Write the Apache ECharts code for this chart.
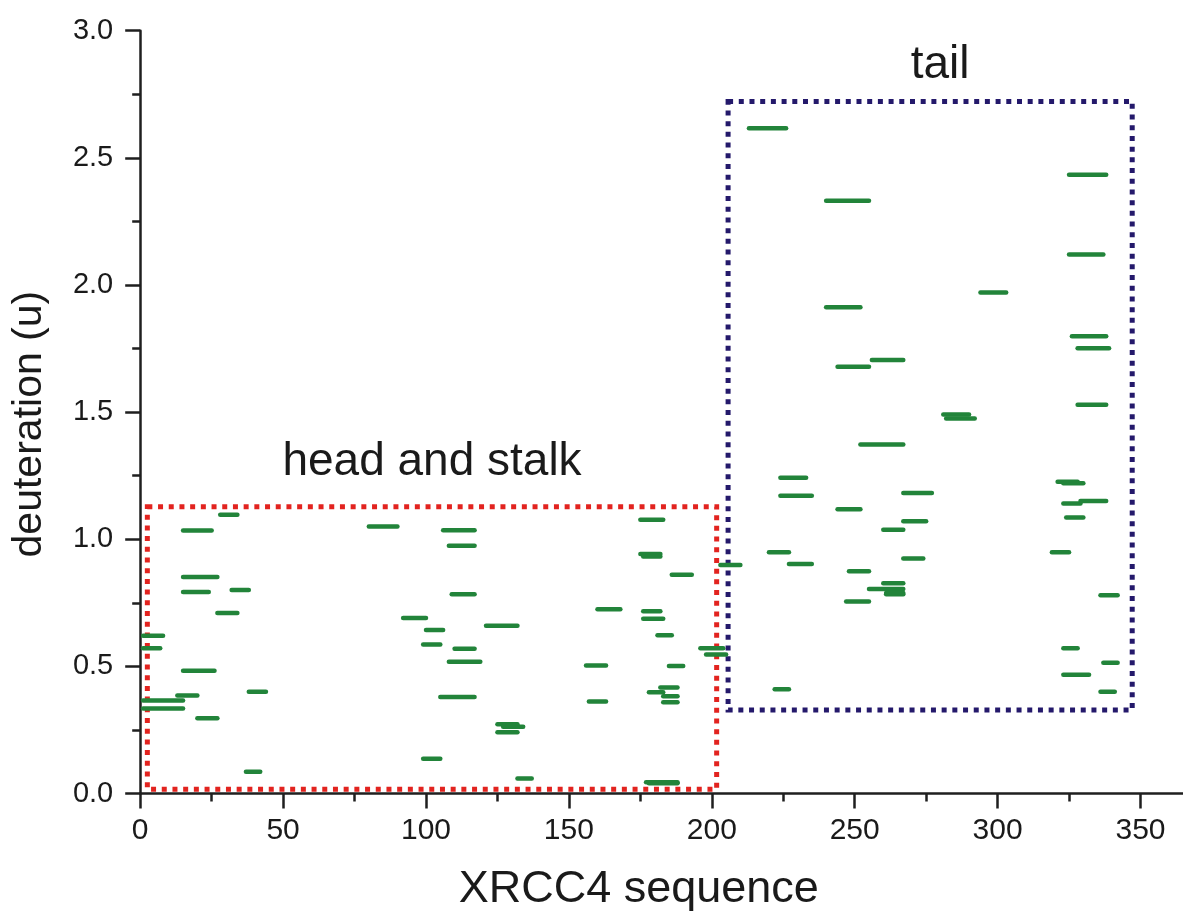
<!DOCTYPE html>
<html>
<head>
<meta charset="utf-8">
<style>
  html, body { margin: 0; padding: 0; background: #fff; }
  #chart { width: 1183px; height: 913px; }
</style>
<script src="https://cdn.jsdelivr.net/npm/echarts@6/dist/echarts.min.js"></script>
</head>
<body>
<div id="chart"></div>
<script>
// peptides: [start residue, end residue, deuteration (u)]
const headPeptides = [
  [28, 34, 1.096], [15, 25, 1.034], [15, 27, 0.851], [15, 24, 0.792],
  [32, 38, 0.800], [27, 34, 0.710], [1, 8, 0.620], [1, 7, 0.571],
  [15, 26, 0.483], [13, 20, 0.385], [1, 15, 0.366], [1, 15, 0.334],
  [20, 27, 0.296], [38, 44, 0.400], [37, 42, 0.086], [80, 90, 1.050],
  [92, 100, 0.690], [100, 106, 0.643], [99, 105, 0.586], [99, 105, 0.137],
  [106, 117, 1.035], [108, 117, 0.974], [109, 117, 0.784], [110, 117, 0.569],
  [108, 119, 0.518], [121, 132, 0.660], [105, 117, 0.380], [125, 132, 0.272],
  [127, 134, 0.263], [125, 132, 0.241], [132, 137, 0.059], [160, 168, 0.725],
  [156, 163, 0.503], [157, 163, 0.362], [175, 183, 1.077], [175, 182, 0.942],
  [176, 182, 0.932], [186, 193, 0.860], [176, 182, 0.717], [176, 183, 0.687],
  [181, 186, 0.622], [196, 204, 0.571], [198, 205, 0.547], [185, 190, 0.501],
  [182, 188, 0.417], [178, 183, 0.398], [183, 188, 0.382], [183, 188, 0.359],
  [177, 188, 0.044], [178, 188, 0.040]
];
const tailPeptides = [
  [203, 210, 0.899], [220, 227, 0.949], [227, 235, 0.903], [224, 233, 1.242],
  [224, 235, 1.171], [222, 227, 0.410], [252, 267, 1.373], [244, 252, 1.118],
  [248, 255, 0.874], [247, 255, 0.755], [260, 267, 0.827], [255, 267, 0.804],
  [261, 267, 0.789], [261, 267, 0.784], [267, 277, 1.182], [267, 275, 1.071],
  [260, 267, 1.037], [267, 274, 0.924], [321, 328, 1.226], [323, 330, 1.220],
  [323, 329, 1.141], [329, 338, 1.150], [324, 330, 1.085], [319, 325, 0.949],
  [336, 342, 0.780], [323, 328, 0.571], [337, 342, 0.514], [323, 332, 0.467],
  [336, 341, 0.400], [213, 226, 2.616], [240, 255, 2.331], [240, 252, 1.912],
  [244, 255, 1.678], [256, 267, 1.705], [281, 290, 1.491], [282, 292, 1.475],
  [294, 303, 1.970], [325, 338, 2.433], [325, 337, 2.120], [326, 338, 1.798],
  [328, 339, 1.751], [328, 338, 1.529]
];
// domains: [x0, x1, y0, y1]
const regions = [
  [2.5, 201.7, 0.017, 1.128],
  [205.7, 347.1, 0.328, 2.722]
];
const regionNames = ['head and stalk', 'tail'];
const xTicks = [0, 50, 100, 150, 200, 250, 300, 350];

// look of the domain boxes and their captions
const regionColors = ['#e2231f', '#24196b'];
const captionShift = [[0, -44], [10, -36]];

const chart = echarts.init(document.getElementById('chart'));

function peptideItem(params, api) {
  const a = api.coord([api.value(0), api.value(2)]);
  const b = api.coord([api.value(1), api.value(2)]);
  return {
    type: 'line',
    shape: { x1: a[0], y1: a[1], x2: b[0], y2: b[1] },
    style: { stroke: '#22843a', lineWidth: 4.5, lineCap: 'round' }
  };
}

function regionItem(params, api) {
  const i = params.dataIndex;
  const p0 = api.coord([api.value(0), api.value(3)]);
  const p1 = api.coord([api.value(1), api.value(2)]);
  return {
    type: 'group',
    children: [
      {
        type: 'rect',
        shape: { x: p0[0], y: p0[1], width: p1[0] - p0[0], height: p1[1] - p0[1] },
        style: { fill: null, stroke: regionColors[i], lineWidth: 5, lineDash: [5, 5.7] }
      },
      {
        type: 'text',
        x: (p0[0] + p1[0]) / 2 + captionShift[i][0],
        y: p0[1] + captionShift[i][1],
        style: {
          text: regionNames[i],
          fontSize: 46,
          fontFamily: 'Liberation Sans',
          fill: '#1a1a1a',
          align: 'center',
          verticalAlign: 'middle'
        }
      }
    ]
  };
}

chart.setOption({
  animation: false,
  grid: {
    left: 140.2, top: 30.7, width: 1143.2, height: 762.8,
    containLabel: false, outerBoundsMode: 'none'
  },
  xAxis: {
    type: 'value',
    min: 0,
    max: 400,
    interval: 50,
    name: 'XRCC4 sequence',
    nameLocation: 'middle',
    nameGap: 74,
    nameTextStyle: { fontSize: 45, fontFamily: 'Liberation Sans', color: '#1a1a1a', padding: [0, 146, 0, 0] },
    axisLine: { lineStyle: { color: '#1f1f1f', width: 2.5 } },
    axisTick: { length: 15, lineStyle: { color: '#1f1f1f', width: 2.5 } },
    minorTick: { show: true, splitNumber: 2, length: 8, lineStyle: { color: '#1f1f1f', width: 2.5 } },
    axisLabel: {
      fontSize: 30, fontFamily: 'Liberation Sans', color: '#1a1a1a', margin: 22,
      formatter: v => (xTicks.indexOf(v) >= 0 ? String(v) : '')
    },
    splitLine: { show: false }
  },
  yAxis: {
    type: 'value',
    min: 0,
    max: 3,
    interval: 0.5,
    name: 'deuteration (u)',
    nameLocation: 'middle',
    nameGap: 90,
    nameTextStyle: { fontSize: 41, fontFamily: 'Liberation Sans', color: '#1a1a1a', padding: [0, 24, 0, 0] },
    axisLine: { show: true, lineStyle: { color: '#1f1f1f', width: 2.5 } },
    axisTick: { show: true, length: 15, lineStyle: { color: '#1f1f1f', width: 2.5 } },
    minorTick: { show: true, splitNumber: 2, length: 8, lineStyle: { color: '#1f1f1f', width: 2.5 } },
    axisLabel: {
      fontSize: 29, fontFamily: 'Liberation Sans', color: '#1a1a1a', margin: 27,
      formatter: v => v.toFixed(1)
    },
    splitLine: { show: false }
  },
  series: [
    {
      type: 'custom',
      name: 'regions',
      renderItem: regionItem,
      data: regions,
      encode: { x: [0, 1], y: [2, 3] },
      z: 1
    },
    {
      type: 'custom',
      name: 'head',
      renderItem: peptideItem,
      data: headPeptides,
      encode: { x: [0, 1], y: 2 },
      z: 2
    },
    {
      type: 'custom',
      name: 'tail',
      renderItem: peptideItem,
      data: tailPeptides,
      encode: { x: [0, 1], y: 2 },
      z: 2
    }
  ]
});
</script>
</body>
</html>
